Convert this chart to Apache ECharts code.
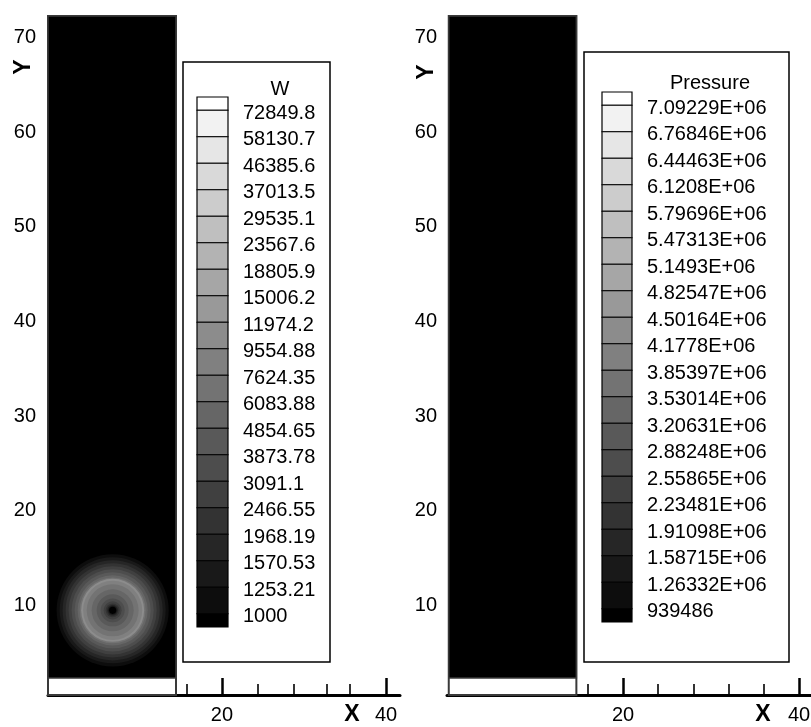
<!DOCTYPE html>
<html>
<head>
<meta charset="utf-8">
<script src="https://cdn.jsdelivr.net/npm/echarts@6/dist/echarts.min.js"></script>
<style>
html,body{margin:0;padding:0;background:#fff;}
#c{width:811px;height:727px;}
</style>
</head>
<body>
<div id="c"></div>
<script>
// ---------------- data ----------------
const wLevels = ['72849.8','58130.7','46385.6','37013.5','29535.1','23567.6','18805.9','15006.2','11974.2','9554.88','7624.35','6083.88','4854.65','3873.78','3091.1','2466.55','1968.19','1570.53','1253.21','1000'];
const pLevels = ['7.09229E+06','6.76846E+06','6.44463E+06','6.1208E+06','5.79696E+06','5.47313E+06','5.1493E+06','4.82547E+06','4.50164E+06','4.1778E+06','3.85397E+06','3.53014E+06','3.20631E+06','2.88248E+06','2.55865E+06','2.23481E+06','1.91098E+06','1.58715E+06','1.26332E+06','939486'];
const yTickValues = [10, 20, 30, 40, 50, 60, 70];
const xLabelValues = [20, 40];
const xMinorLeft = [3.05, 7.3, 11.5, 15.7, 24.4, 28.7, 32.8, 35.6];
const xMinorRight = [4, 8, 12, 16, 24, 28, 32, 36];
// field domain: [xmin, xmax, yFillBottom, ytop]
const domainLeft = [-1.2, 14.4, 2.3, 72.3];
const domainRight = [0.2, 14.7, 2.3, 72.3];
const wBackground = 1000;
const pBackground = 939486;
// W pulse: centre and radial profile (outer to inner)
const pulseCenter = [6.68, 9.45];
const pulseRadius = [6.83, 6.46, 6.10, 5.73, 5.37, 5.0, 4.63, 4.27, 4.02, 3.84, 3.6, 3.17, 2.56, 1.95, 1.46, 1.1, 0.85, 0.67, 0.55, 0.43];
const pulseW      = [1100, 1400, 1700, 2200, 2700, 3400, 4300, 5400, 6800, 10500, 8500, 6800, 5400, 4300, 3400, 2700, 2200, 1700, 1400, 900];

// ---------------- helpers ----------------
const FONT = '"Liberation Sans", Arial, Helvetica, sans-serif';
function bandIndex(levels, v) { return levels.filter(l => parseFloat(l) >= v).length; }
function bandGray(k, n) { const g = Math.round(255 * (1 - k / n)); return 'rgb(' + g + ',' + g + ',' + g + ')'; }
function colorFor(levels, v) { return bandGray(bandIndex(levels, v), levels.length); }

const Y_MIN = 0.5, Y_MAX = 72.3;

function domainRender(levels, bg) {
  return function (params, api) {
    const x0 = api.value(0), x1 = api.value(1), yf = api.value(2), yt = api.value(3);
    const pTL = api.coord([x0, yt]);
    const pBR = api.coord([x1, Y_MIN]);
    const pF = api.coord([x1, yf]);
    return {
      type: 'group',
      children: [
        { type: 'rect', shape: { x: pTL[0], y: pTL[1], width: pBR[0] - pTL[0], height: pBR[1] - pTL[1] },
          style: { fill: '#fff', stroke: '#3a3a3a', lineWidth: 2 } },
        { type: 'rect', shape: { x: pTL[0], y: pTL[1], width: pF[0] - pTL[0], height: pF[1] - pTL[1] },
          style: { fill: colorFor(levels, bg), stroke: '#3a3a3a', lineWidth: 1.5 } }
      ]
    };
  };
}

function legendRender(levels) {
  const n = levels.length;
  return function (params, api) {
    const k = api.value(0);
    const y0 = Math.max(0, k - 0.5), y1 = Math.min(n, k + 0.5);
    const a = api.coord([0, y0]), b = api.coord([1, y1]);
    const children = [
      { type: 'rect', shape: { x: a[0], y: a[1], width: b[0] - a[0], height: b[1] - a[1] },
        style: { fill: bandGray(k, n), stroke: '#000', lineWidth: 1.2 } }
    ];
    if (k < n) {
      children.push({ type: 'text', x: b[0] + 15, y: b[1] + 3,
        style: { text: levels[k], font: '20px ' + FONT, fill: '#000', align: 'left', verticalAlign: 'middle',
                 textAlign: 'left', textVerticalAlign: 'middle' } });
    }
    return { type: 'group', children: children };
  };
}

const bandIdx = n => Array.from({ length: n + 1 }, (_, i) => [i]);

function mainXAxis(gridIndex, min, max) {
  return {
    type: 'value', gridIndex: gridIndex, min: min, max: max, position: 'bottom',
    axisLine: { show: true, onZero: false, lineStyle: { color: '#000', width: 3 } },
    axisTick: { show: true, inside: true, length: 17, customValues: xLabelValues, lineStyle: { color: '#000', width: 2.5 } },
    axisLabel: { show: true, customValues: xLabelValues, margin: 10, color: '#000', fontSize: 20, fontFamily: FONT, hideOverlap: false },
    splitLine: { show: false }
  };
}
function minorXAxis(gridIndex, min, max, ticks) {
  return {
    type: 'value', gridIndex: gridIndex, min: min, max: max, position: 'bottom',
    axisLine: { show: false, onZero: false },
    axisTick: { show: true, inside: true, length: 11, customValues: ticks, lineStyle: { color: '#000', width: 1.6 } },
    axisLabel: { show: false },
    splitLine: { show: false }
  };
}
function mainYAxis(gridIndex, margin) {
  return {
    type: 'value', gridIndex: gridIndex, min: Y_MIN, max: Y_MAX,
    axisLine: { show: false }, axisTick: { show: false }, splitLine: { show: false },
    axisLabel: { show: true, customValues: yTickValues, margin: margin, color: '#000', fontSize: 20, fontFamily: FONT, hideOverlap: false }
  };
}
function hiddenAxis(gridIndex, min, max, inverse) {
  return { type: 'value', gridIndex: gridIndex, min: min, max: max, inverse: !!inverse, show: false,
           splitLine: { show: false } };
}

const gridBase = { containLabel: false, outerBoundsMode: 'none' };

const option = {
  animation: false,
  backgroundColor: '#fff',
  grid: [
    Object.assign({ left: 48, top: 16, width: 352, height: 679 }, gridBase),
    Object.assign({ left: 447, top: 16, width: 364, height: 679 }, gridBase),
    Object.assign({ left: 197, top: 97, width: 31, height: 530 }, gridBase),
    Object.assign({ left: 602, top: 92, width: 30, height: 530 }, gridBase)
  ],
  xAxis: [
    mainXAxis(0, -1.2, 41.7),
    minorXAxis(0, -1.2, 41.7, xMinorLeft),
    mainXAxis(1, 0, 41.36),
    minorXAxis(1, 0, 41.36, xMinorRight),
    hiddenAxis(2, 0, 1),
    hiddenAxis(3, 0, 1)
  ],
  yAxis: [
    mainYAxis(0, 12),
    mainYAxis(1, 10),
    hiddenAxis(2, 0, wLevels.length, true),
    hiddenAxis(3, 0, pLevels.length, true)
  ],
  graphic: [
    { type: 'rect', z: 1, shape: { x: 183, y: 62, width: 147, height: 600 }, style: { fill: '#fff', stroke: '#000', lineWidth: 1.5 } },
    { type: 'rect', z: 1, shape: { x: 584, y: 52, width: 205, height: 610 }, style: { fill: '#fff', stroke: '#000', lineWidth: 1.5 } },
    { type: 'text', z: 3, x: 280, y: 89, style: { text: 'W', font: '20px ' + FONT, fill: '#000', align: 'center', verticalAlign: 'middle', textAlign: 'center', textVerticalAlign: 'middle' } },
    { type: 'text', z: 3, x: 710, y: 83, style: { text: 'Pressure', font: '20px ' + FONT, fill: '#000', align: 'center', verticalAlign: 'middle', textAlign: 'center', textVerticalAlign: 'middle' } },
    { type: 'text', z: 3, x: 352, y: 715, style: { text: 'X', font: 'bold 23px ' + FONT, fill: '#000', align: 'center', verticalAlign: 'middle', textAlign: 'center', textVerticalAlign: 'middle' } },
    { type: 'text', z: 3, x: 763, y: 715, style: { text: 'X', font: 'bold 23px ' + FONT, fill: '#000', align: 'center', verticalAlign: 'middle', textAlign: 'center', textVerticalAlign: 'middle' } },
    { type: 'text', z: 3, x: 24, y: 67, rotation: Math.PI / 2, style: { text: 'Y', font: 'bold 23px ' + FONT, fill: '#000', align: 'center', verticalAlign: 'middle', textAlign: 'center', textVerticalAlign: 'middle' } },
    { type: 'text', z: 3, x: 427, y: 72, rotation: Math.PI / 2, style: { text: 'Y', font: 'bold 23px ' + FONT, fill: '#000', align: 'center', verticalAlign: 'middle', textAlign: 'center', textVerticalAlign: 'middle' } }
  ],
  series: [
    { type: 'custom', name: 'W field', xAxisIndex: 0, yAxisIndex: 0, z: 2, clip: false,
      data: [domainLeft], renderItem: domainRender(wLevels, wBackground) },
    { type: 'custom', name: 'W pulse', xAxisIndex: 0, yAxisIndex: 0, z: 3, clip: false,
      data: pulseRadius.map((r, i) => [pulseCenter[0], pulseCenter[1], r, pulseW[i]]),
      renderItem: function (params, api) {
        const c = api.coord([api.value(0), api.value(1)]);
        const r = api.size([api.value(2), 0])[0];
        return { type: 'circle', shape: { cx: c[0], cy: c[1], r: r }, style: { fill: colorFor(wLevels, api.value(3)) } };
      } },
    { type: 'custom', name: 'Pressure field', xAxisIndex: 2, yAxisIndex: 1, z: 2, clip: false,
      data: [domainRight], renderItem: domainRender(pLevels, pBackground) },
    { type: 'custom', name: 'W legend', xAxisIndex: 4, yAxisIndex: 2, z: 4, clip: false,
      data: bandIdx(wLevels.length), renderItem: legendRender(wLevels) },
    { type: 'custom', name: 'Pressure legend', xAxisIndex: 5, yAxisIndex: 3, z: 4, clip: false,
      data: bandIdx(pLevels.length), renderItem: legendRender(pLevels) }
  ]
};

const chart = echarts.init(document.getElementById('c'));
chart.setOption(option);
</script>
</body>
</html>
